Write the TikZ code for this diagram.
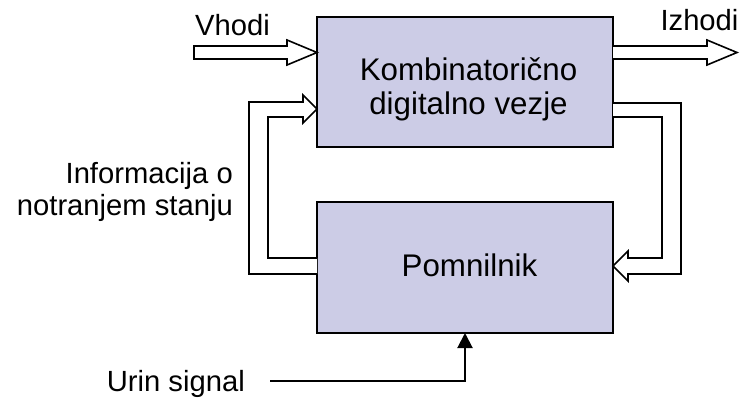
\documentclass[tikz,border=0pt]{standalone}
\usepackage{fontspec}
\setmainfont{Liberation Sans}
\usetikzlibrary{arrows.meta,calc}
\definecolor{boxfill}{RGB}{204,204,230}
\tikzset{
  blk/.style={draw=black, line width=2pt, fill=boxfill, inner sep=0pt, outer sep=0pt},
  fat/.style={draw=black, line width=1.6pt, fill=white, line join=miter},
  lbl/.style={inner sep=0pt, font=\fontsize{29.2}{32}\selectfont},
  boxlbl/.style={inner sep=0pt, font=\fontsize{31.3}{34}\selectfont},
  clk/.style={draw=black, line width=2pt, -{Triangle[length=15pt,width=15pt]}}
}
\begin{document}
\begin{tikzpicture}[x=1pt,y=-1pt]
\useasboundingbox (0,0) rectangle (748,397);
% boxes
\node[blk, minimum width=296pt, minimum height=130pt] (comb) at (465,82) {};
\node[blk, minimum width=296pt, minimum height=131pt] (mem) at (465,267.5) {};
% box texts
\node[boxlbl, align=center, anchor=north] (combtext) at (468.5,57.1) {Kombinatorično\\digitalno vezje};
\node[boxlbl, anchor=base] (memtext) at (469.5,276) {Pomnilnik};
% input arrow
\draw[fat] (194,46) -- (287,46) -- (287,40) -- (comb.west |- 0,52.5) -- (287,65) -- (287,59) -- (194,59) -- cycle;
\node[lbl, anchor=base] (vin) at (232.5,35) {Vhodi};
% output arrow
\draw[fat] (comb.east |- 0,46) -- (707,46) -- (707,40) -- (737,52.5) -- (707,65) -- (707,59) -- (comb.east |- 0,59);
\node[lbl, anchor=base] (vout) at (699.5,30) {Izhodi};
% feedback: comb -> mem (right side)
\draw[fat] (comb.east |- 0,103) -- (681,103) -- (681,274) -- (628,274) -- (628,281)
  -- (mem.east |- 0,266) -- (628,251) -- (628,258) -- (662,258) -- (662,117) -- (comb.east |- 0,117);
% feedback: mem -> comb (left side)
\draw[fat] (mem.west |- 0,274) -- (249,274) -- (249,102) -- (303,102) -- (303,95)
  -- (comb.west |- 0,109) -- (303,123) -- (303,117) -- (268,117) -- (268,258) -- (mem.west |- 0,258);
\node[lbl, align=right, anchor=north east] (info) at (233,161.8) {Informacija o\\notranjem stanju};
% clock
\node[lbl, anchor=base east] (clktext) at (245,391) {Urin signal};
\coordinate (clkstart) at (270,381);
\draw[clk] (clkstart) -| (mem.south);
\end{tikzpicture}
\end{document}
